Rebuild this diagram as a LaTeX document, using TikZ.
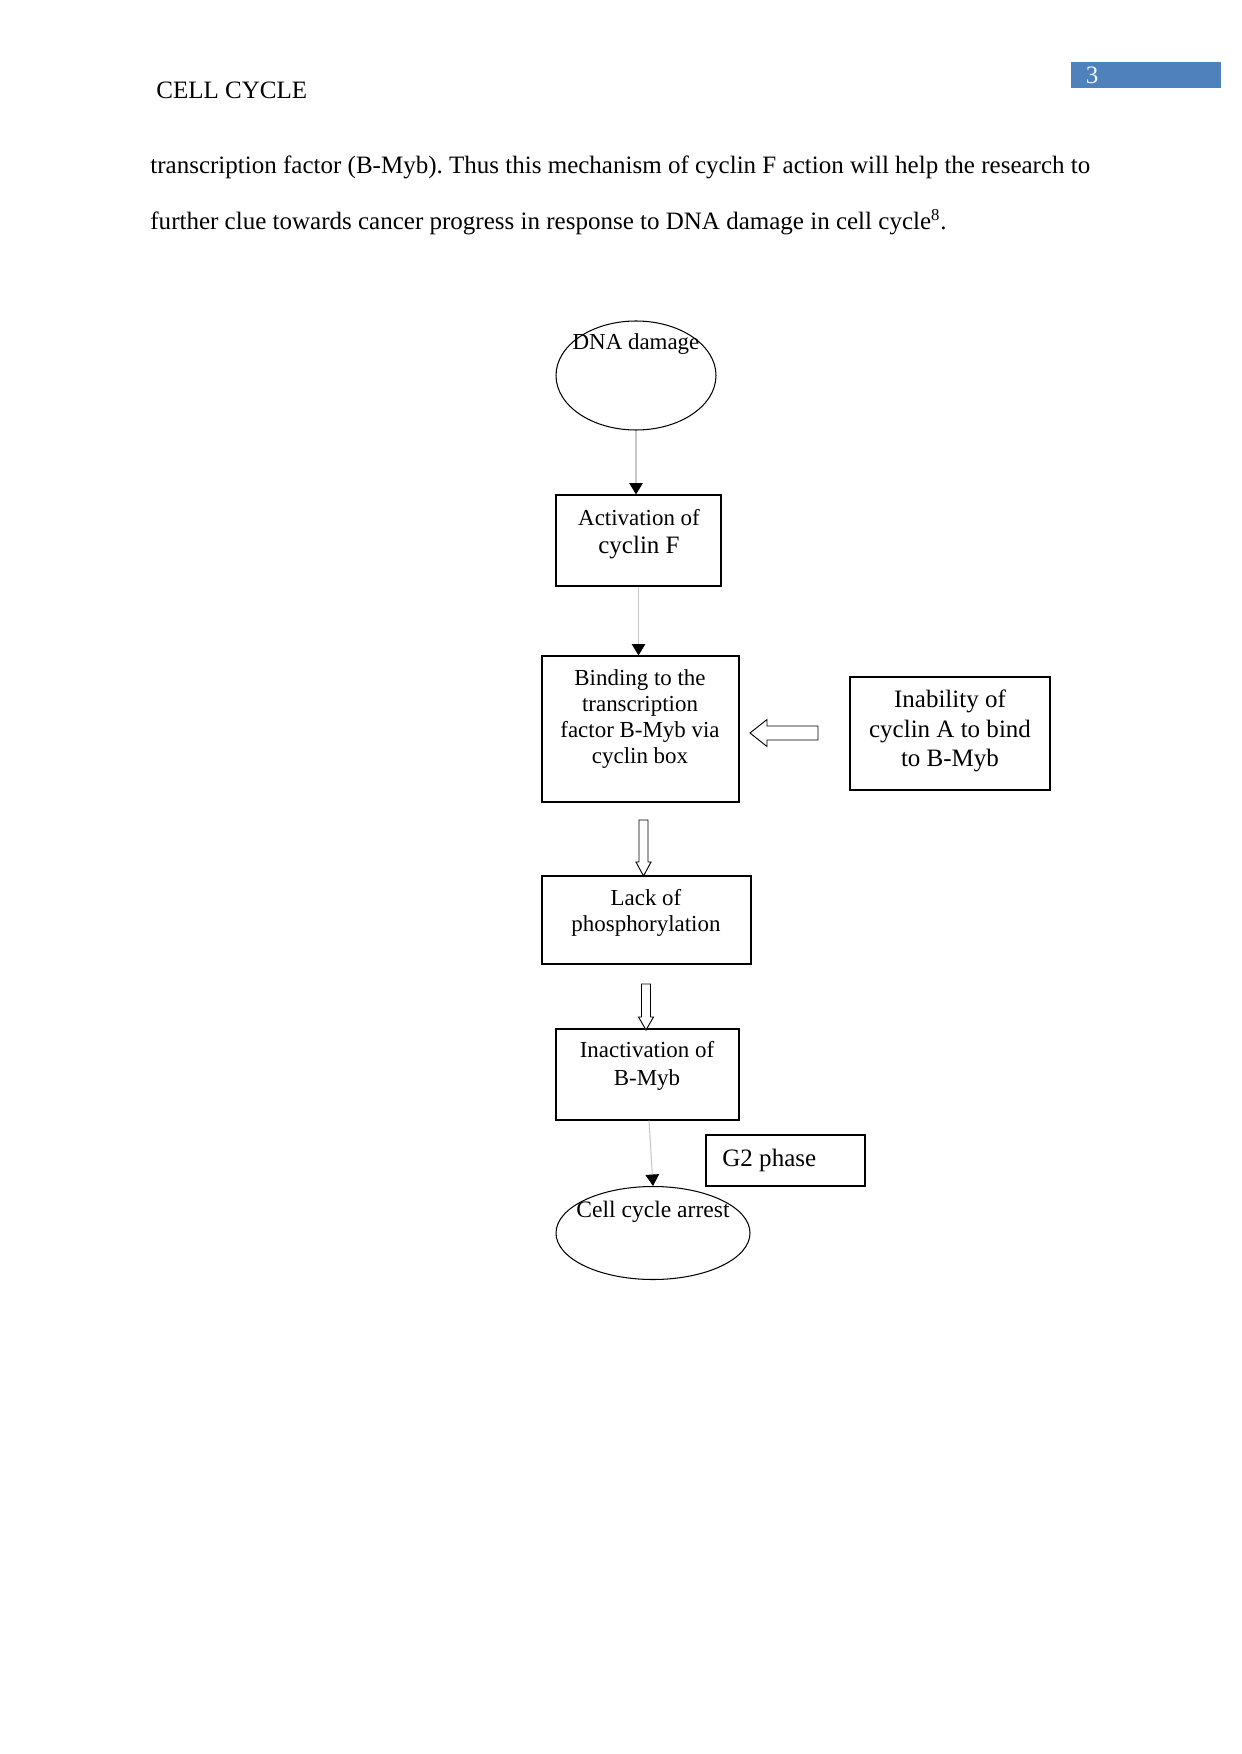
\documentclass[tikz,border=0pt]{standalone}
\usepackage{fontspec}
\setmainfont{Liberation Serif}
\usetikzlibrary{shapes.geometric,arrows.meta}
\def\px{0.47973pt}
\definecolor{pageblue}{HTML}{4F81BD}
\frenchspacing
\begin{document}
\begin{tikzpicture}[x=0.47973pt,y=-0.47973pt,
  box/.style={draw, line width=0.5pt, inner sep=0, rectangle},
  oval/.style={draw, ellipse, line width=0.5pt, inner sep=0},
  txt/.style={font=\fontsize{11}{12.5}\selectfont, align=center, inner sep=0},
  bigtxt/.style={font=\fontsize{12}{14}\selectfont, align=center, inner sep=0},
  body/.style={font=\fontsize{12}{14}\selectfont, inner sep=0, anchor=base west},
  link/.style={draw=black!22, line width=0.5pt, -{Triangle[length=5.5pt,width=6.5pt,color=black]}},
  hollow/.style={draw, line width=0.45pt, fill=white, line join=miter}]
\useasboundingbox (0,0) rectangle (1241,1754);
\fill[white] (0,0) rectangle (1241,1754);

% header
\node[body, anchor=west] (hdr) at (156,90) {CELL CYCLE};
\node[fill=pageblue, inner sep=0, minimum width=150*\px, minimum height=26*\px] (pg) at (1146,75) {};
\node[inner sep=0, text=white!92!pageblue, font=\fontsize{12}{14}\selectfont] (pgnum) at (1092,75) {3};

% body text
\node[body] (l1) at (150,174) {transcription factor (B-Myb). Thus this mechanism of cyclin F action will help the research to};
\node[body] (l2) at (150,230) {further clue towards cancer progress in response to DNA damage in cell cycle\textsuperscript{8}.};

% flowchart shapes
\node[oval, minimum width=160*\px, minimum height=109*\px] (dna) at (636,375.5) {};
\node[txt] (dnat) at (636,344) {DNA damage};

\node[box, minimum width=165*\px, minimum height=91*\px] (act) at (638.5,540.5) {};
\node[txt] (actt) at (639,534.5) {Activation of\\[1pt]{\fontsize{12}{14}\selectfont cyclin F}};

\node[box, minimum width=197*\px, minimum height=146*\px] (bind) at (640.5,729) {};
\node[txt] (bindt) at (640,719) {Binding to the\\transcription\\factor B-Myb via\\cyclin box};

\node[box, minimum width=200*\px, minimum height=113*\px] (inab) at (950,733.5) {};
\node[bigtxt] (inabt) at (950,731) {Inability of\\cyclin A to bind\\to B-Myb};

\node[box, minimum width=209*\px, minimum height=88*\px] (lack) at (646.5,920) {};
\node[txt] (lackt) at (646,913) {Lack of\\phosphorylation};

\node[box, minimum width=183*\px, minimum height=91*\px] (inact) at (647.5,1074.5) {};
\node[txt] (inactt) at (647,1066) {Inactivation of\\[0.8pt]B-Myb};

\node[box, minimum width=159*\px, minimum height=51*\px] (g2) at (785.5,1160.5) {};
\node[bigtxt, anchor=west] (g2t) at (722,1160) {G2 phase};

\node[oval, minimum width=194*\px, minimum height=93*\px] (arrest) at (653,1233) {};
\node[font=\fontsize{11.3}{13}\selectfont, inner sep=0] (arrestt) at (653,1212) {Cell cycle arrest};

% thin connectors
\draw[link] (dna.south) -- (dna.south |- act.north);
\draw[link] (act.south) -- (act.south |- bind.north);
\draw[link] ([xshift=1.5*\px]inact.south) -- (arrest.north);

% hollow block arrows
\coordinate (la) at (818,733);
\draw[hollow] (la) ++(0,-7) -- ++(-51,0) -- ++(0,-6.5) -- ++(-17,13.5) -- ++(17,13.5) -- ++(0,-6.5) -- ++(51,0) -- cycle;

\coordinate (d1) at (643.5,820);
\draw[hollow] (d1) ++(-4.5,0) -- ++(0,42) -- ++(-3,0) -- ++(7.5,14) -- ++(7.5,-14) -- ++(-3,0) -- ++(0,-42) -- cycle;

\coordinate (d2) at (646,984);
\draw[hollow] (d2) ++(-4.5,0) -- ++(0,33) -- ++(-3,0) -- ++(7.5,13) -- ++(7.5,-13) -- ++(-3,0) -- ++(0,-33) -- cycle;
\end{tikzpicture}
\end{document}
